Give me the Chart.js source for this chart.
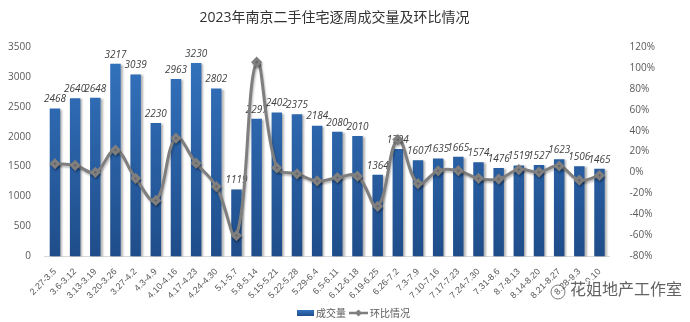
<!DOCTYPE html>
<html>
<head>
<meta charset="utf-8">
<script src="https://cdn.jsdelivr.net/npm/chart.js@4.4.1/dist/chart.umd.min.js"></script>
<style>
  html, body { margin: 0; padding: 0; background: #fff; }
  #wrap { width: 690px; height: 322px; }
</style>
</head>
<body>
<div id="wrap"><canvas id="weeklyChart" width="690" height="322"></canvas></div>
<script>
// weekly periods
const weeks = [
  "2.27-3.5", "3.6-3.12", "3.13-3.19", "3.20-3.26", "3.27-4.2", "4.3-4.9",
  "4.10-4.16", "4.17-4.23", "4.24-4.30", "5.1-5.7", "5.8-5.14", "5.15-5.21",
  "5.22-5.28", "5.29-6.4", "6.5-6.11", "6.12-6.18", "6.19-6.25", "6.26-7.2",
  "7.3-7.9", "7.10-7.16", "7.17-7.23", "7.24-7.30", "7.31-8.6", "8.7-8.13",
  "8.14-8.20", "8.21-8.27", "8.28-9.3", "9.4-9.10"
];

// 成交量 (套)
const volumes = [
  2468, 2640, 2648, 3217, 3039, 2230, 2963, 3230, 2802, 1119,
  2297, 2402, 2375, 2184, 2080, 2010, 1364, 1794, 1607, 1635,
  1665, 1574, 1476, 1519, 1527, 1623, 1506, 1465
];

// 环比 (%)
const changes = [
  8.5, 7.0, 0.3, 21.5, -5.5, -26.6, 32.9, 9.0, -13.3, -60.1,
  105.3, 4.6, -1.1, -8.0, -4.8, -3.4, -32.1, 31.5, -10.4, 1.7,
  1.8, -5.5, -6.2, 2.9, 0.5, 6.3, -7.2, -2.7
];

const leftTicks = [0, 500, 1000, 1500, 2000, 2500, 3000, 3500];
const rightTicks = [-80, -60, -40, -20, 0, 20, 40, 60, 80, 100, 120];
const seriesNames = ["成交量", "环比情况"];

const BAR_TOP = "#3474c0";
const BAR_BOTTOM = "#1f4d8a";
const LINE_GRAY = "#7f7f7f";
const TEXT_GRAY = "#595959";
const FONT = "'Open Sans', 'Noto Sans CJK SC', sans-serif";
const NARROW = "'Liberation Sans', 'Noto Sans CJK SC', sans-serif";

// value labels on the bars, drop shadows, legend row and footer mark
const barExtras = {
  id: "barExtras",
  beforeDatasetDraw(chart, args) {
    const ctx = chart.ctx;
    ctx.save();
    if (args.index === 0) {
      ctx.shadowColor = "rgba(0,0,0,0.30)";
      ctx.shadowOffsetX = 2;
      ctx.shadowOffsetY = 1;
      ctx.shadowBlur = 2;
    } else {
      ctx.shadowColor = "rgba(0,0,0,0.25)";
      ctx.shadowOffsetX = 1;
      ctx.shadowOffsetY = 2;
      ctx.shadowBlur = 2;
    }
  },
  afterDatasetDraw(chart, args) {
    const ctx = chart.ctx;
    ctx.restore();
    if (args.index !== 0) return;
    ctx.save();
    ctx.font = "italic 10px " + FONT;
    ctx.fillStyle = "#404040";
    ctx.textAlign = "center";
    ctx.textBaseline = "bottom";
    args.meta.data.forEach((bar, i) => {
      ctx.fillText(String(volumes[i]), bar.x, bar.y - 4);
    });
    ctx.restore();
  },
  afterDraw(chart) {
    const ctx = chart.ctx;
    ctx.save();

    // legend
    const ly = 313;
    ctx.font = "10px 'Noto Sans CJK SC', sans-serif";
    ctx.textBaseline = "middle";
    ctx.textAlign = "left";
    let x = 297;
    const g = ctx.createLinearGradient(0, ly - 3, 0, ly + 3);
    g.addColorStop(0, BAR_TOP);
    g.addColorStop(1, BAR_BOTTOM);
    ctx.fillStyle = g;
    ctx.fillRect(x, ly - 3, 17, 6);
    x += 19;
    ctx.fillStyle = TEXT_GRAY;
    ctx.fillText(seriesNames[0], x, ly);
    x += ctx.measureText(seriesNames[0]).width + 3;
    ctx.strokeStyle = LINE_GRAY;
    ctx.lineWidth = 2.5;
    ctx.beginPath(); ctx.moveTo(x, ly); ctx.lineTo(x + 19, ly); ctx.stroke();
    ctx.fillStyle = LINE_GRAY;
    ctx.beginPath();
    ctx.moveTo(x + 9.5, ly - 3.5); ctx.lineTo(x + 13, ly); ctx.lineTo(x + 9.5, ly + 3.5); ctx.lineTo(x + 6, ly);
    ctx.closePath(); ctx.fill();
    x += 21;
    ctx.fillStyle = TEXT_GRAY;
    ctx.fillText(seriesNames[1], x, ly);

    // footer mark in the lower right corner
    ctx.font = "16px 'Noto Sans CJK SC', sans-serif";
    ctx.lineWidth = 3;
    ctx.strokeStyle = "rgba(255,255,255,0.9)";
    ctx.strokeText("花姐地产工作室", 570, 289);
    ctx.fillStyle = "rgba(70,70,70,0.85)";
    ctx.fillText("花姐地产工作室", 570, 289);
    ctx.strokeStyle = "rgba(90,90,90,0.8)";
    ctx.lineWidth = 1;
    ctx.beginPath(); ctx.arc(558, 292, 7, 0, Math.PI * 2); ctx.stroke();
    ctx.restore();
  }
};

const ctx = document.getElementById("weeklyChart").getContext("2d");

new Chart(ctx, {
  type: "bar",
  data: {
    labels: weeks,
    datasets: [
      {
        type: "bar",
        label: seriesNames[0],
        data: volumes,
        yAxisID: "y",
        order: 1,
        backgroundColor: (c) => {
          const area = c.chart.chartArea;
          if (!area) return BAR_TOP;
          const g = c.chart.ctx.createLinearGradient(0, area.top, 0, area.bottom);
          g.addColorStop(0, BAR_TOP);
          g.addColorStop(1, BAR_BOTTOM);
          return g;
        },
        barPercentage: 0.52,
        categoryPercentage: 1.0
      },
      {
        type: "line",
        label: seriesNames[1],
        data: changes,
        yAxisID: "y1",
        order: 0,
        borderColor: LINE_GRAY,
        backgroundColor: LINE_GRAY,
        borderWidth: 3,
        tension: 0.4,
        pointStyle: "rectRot",
        pointRadius: 3.5,
        pointBackgroundColor: LINE_GRAY,
        pointBorderColor: LINE_GRAY,
        fill: false
      }
    ]
  },
  options: {
    responsive: false,
    animation: false,
    layout: { padding: { left: 2, right: 23, top: 0, bottom: 11 } },
    plugins: {
      title: {
        display: true,
        text: "2023年南京二手住宅逐周成交量及环比情况",
        color: "#333",
        font: { family: FONT, size: 14, weight: "normal" },
        padding: { top: 10, bottom: 20 }
      },
      legend: { display: false },
      tooltip: { enabled: false }
    },
    scales: {
      x: {
        grid: { display: false, drawTicks: false },
        border: { color: "#d9d9d9", width: 1 },
        ticks: {
          color: TEXT_GRAY,
          font: { family: NARROW, size: 9 },
          maxRotation: 45,
          minRotation: 45,
          autoSkip: false,
          padding: 10
        }
      },
      y: {
        position: "left",
        min: 0,
        max: 3500,
        afterBuildTicks: (axis) => { axis.ticks = leftTicks.map(v => ({ value: v })); },
        grid: { display: false },
        border: { display: false },
        ticks: {
          color: TEXT_GRAY,
          font: { family: FONT, size: 10 },
          padding: 6,
          callback: (v) => String(v)
        }
      },
      y1: {
        position: "right",
        min: -80,
        max: 120,
        afterBuildTicks: (axis) => { axis.ticks = rightTicks.map(v => ({ value: v })); },
        grid: { display: false },
        border: { display: false },
        ticks: {
          color: TEXT_GRAY,
          font: { family: FONT, size: 10 },
          padding: 12,
          callback: (v) => v + "%"
        }
      }
    }
  },
  plugins: [barExtras]
});
</script>
</body>
</html>
